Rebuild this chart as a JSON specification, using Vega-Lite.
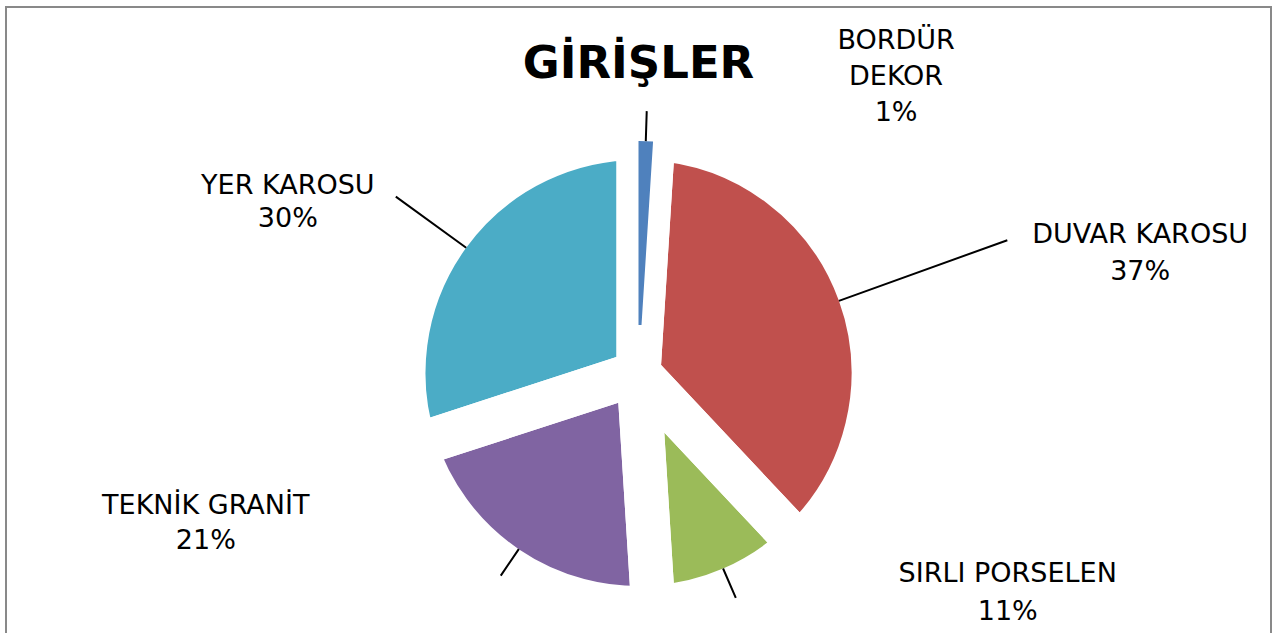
{
  "$schema": "https://vega.github.io/schema/vega-lite/v6.json",
  "width": 1265,
  "height": 629,
  "autosize": "none",
  "padding": {"left": 6, "top": 7, "right": 11, "bottom": -3},
  "background": "white",
  "view": {"stroke": "#898989", "strokeWidth": 2},
  "config": {"view": {"stroke": "#898989", "strokeWidth": 2}, "text": {"lineBreak": "\n"}},
  "title": {"text": "GİRİŞLER", "font": "DejaVu Sans", "fontSize": 45, "fontWeight": "bold", "color": "#000000", "anchor": "middle", "baseline": "alphabetic", "offset": 0, "dy": 116},
  "data": {"values": [
    {"k": "BORDÜR DEKOR", "label": "BORDÜR\nDEKOR", "v": 1},
    {"k": "DUVAR KAROSU", "label": "DUVAR KAROSU", "v": 37},
    {"k": "SIRLI PORSELEN", "label": "SIRLI PORSELEN", "v": 11},
    {"k": "TEKNİK GRANİT", "label": "TEKNİK GRANİT", "v": 21},
    {"k": "YER KAROSU", "label": "YER KAROSU", "v": 30}
  ]},
  "transform": [
    {"stack": "v", "groupby": [], "sort": [{"field": "k", "order": "ascending"}], "as": ["s0", "s1"]},
    {"calculate": "(datum.s0 + datum.s1) / 2", "as": "mid"},
    {"calculate": "datum.label + '\\n' + datum.v + '%'", "as": "txt"}
  ],
  "encoding": {
    "theta": {"field": "s0", "type": "quantitative", "stack": null, "scale": {"domain": [0, 100]}},
    "theta2": {"field": "s1"}
  },
  "layer": [
    {
      "mark": {"type": "arc", "radius": 235, "y": {"expr": "height/2 + 51.5"}},
      "encoding": {
        "color": {"field": "k", "type": "nominal", "legend": null,
          "scale": {"domain": ["BORDÜR DEKOR", "DUVAR KAROSU", "SIRLI PORSELEN", "TEKNİK GRANİT", "YER KAROSU"],
                    "range": ["#4F81BD", "#C0504D", "#9BBB59", "#8064A2", "#4BACC6"]}}
      }
    },
    {
      "mark": {"type": "arc", "radius": 235, "filled": false, "stroke": "white", "strokeWidth": 44, "strokeJoin": "round", "y": {"expr": "height/2 + 51.5"}}
    },
    {
      "transform": [{"filter": "datum.k == 'BORDÜR DEKOR'"}],
      "mark": {"type": "arc", "radius": 232, "radius2": 48, "y": {"expr": "height/2 + 51.5"}},
      "encoding": {
        "color": {"field": "k", "type": "nominal", "legend": null}
      }
    },
    {
      "transform": [{"filter": "datum.k == 'BORDÜR DEKOR'"}],
      "layer": [
        {"mark": {"type": "arc", "radius": 262, "radius2": 232, "filled": false, "stroke": "black", "strokeWidth": 2, "y": {"expr": "height/2 + 51.5"}},
         "encoding": {"theta": {"field": "mid", "type": "quantitative", "stack": null}, "theta2": {"field": "mid"}}},
        {"mark": {"type": "text", "radius": 305, "dx": 248, "dy": -27, "font": "DejaVu Sans", "fontSize": 27, "lineHeight": 36, "align": "center", "baseline": "middle", "color": "#000000", "y": {"expr": "height/2 + 51.5"}},
         "encoding": {"theta": {"field": "mid", "type": "quantitative", "stack": null}, "theta2": null, "text": {"field": "txt"}}}
      ]
    },
    {
      "transform": [{"filter": "datum.k == 'DUVAR KAROSU'"}],
      "layer": [
        {"mark": {"type": "arc", "radius": 392, "radius2": 213, "filled": false, "stroke": "black", "strokeWidth": 2, "y": {"expr": "height/2 + 51.5"}},
         "encoding": {"theta": {"field": "mid", "type": "quantitative", "stack": null}, "theta2": {"field": "mid"}}},
        {"mark": {"type": "text", "radius": 513, "dx": 19, "dy": 36, "font": "DejaVu Sans", "fontSize": 27, "lineHeight": 37, "align": "center", "baseline": "middle", "color": "#000000", "y": {"expr": "height/2 + 51.5"}},
         "encoding": {"theta": {"field": "mid", "type": "quantitative", "stack": null}, "theta2": null, "text": {"field": "txt"}}}
      ]
    },
    {
      "transform": [{"filter": "datum.k == 'SIRLI PORSELEN'"}],
      "layer": [
        {"mark": {"type": "arc", "radius": 245, "radius2": 213, "filled": false, "stroke": "black", "strokeWidth": 2, "y": {"expr": "height/2 + 51.5"}},
         "encoding": {"theta": {"field": "mid", "type": "quantitative", "stack": null}, "theta2": {"field": "mid"}}},
        {"mark": {"type": "text", "radius": 348, "dx": 231, "dy": -118, "font": "DejaVu Sans", "fontSize": 27, "lineHeight": 38, "align": "center", "baseline": "middle", "color": "#000000", "y": {"expr": "height/2 + 51.5"}},
         "encoding": {"theta": {"field": "mid", "type": "quantitative", "stack": null}, "theta2": null, "text": {"field": "txt"}}}
      ]
    },
    {
      "transform": [{"filter": "datum.k == 'TEKNİK GRANİT'"}],
      "layer": [
        {"mark": {"type": "arc", "radius": 245, "radius2": 213, "filled": false, "stroke": "black", "strokeWidth": 2, "y": {"expr": "height/2 + 51.5"}},
         "encoding": {"theta": {"field": "mid", "type": "quantitative", "stack": null}, "theta2": {"field": "mid"}}},
        {"mark": {"type": "text", "radius": 366, "dx": -227, "dy": -170, "font": "DejaVu Sans", "fontSize": 27, "lineHeight": 35, "align": "center", "baseline": "middle", "color": "#000000", "y": {"expr": "height/2 + 51.5"}},
         "encoding": {"theta": {"field": "mid", "type": "quantitative", "stack": null}, "theta2": null, "text": {"field": "txt"}}}
      ]
    },
    {
      "transform": [{"filter": "datum.k == 'YER KAROSU'"}],
      "layer": [
        {"mark": {"type": "arc", "radius": 300, "radius2": 213, "filled": false, "stroke": "black", "strokeWidth": 2, "y": {"expr": "height/2 + 51.5"}},
         "encoding": {"theta": {"field": "mid", "type": "quantitative", "stack": null}, "theta2": {"field": "mid"}}},
        {"mark": {"type": "text", "radius": 384, "dx": -40, "dy": 39, "font": "DejaVu Sans", "fontSize": 27, "lineHeight": 33, "align": "center", "baseline": "middle", "color": "#000000", "y": {"expr": "height/2 + 51.5"}},
         "encoding": {"theta": {"field": "mid", "type": "quantitative", "stack": null}, "theta2": null, "text": {"field": "txt"}}}
      ]
    }
  ]
}
